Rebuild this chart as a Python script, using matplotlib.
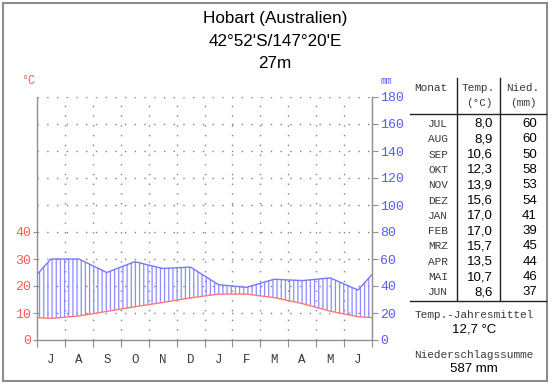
import numpy as np
import matplotlib
matplotlib.use("Agg")
import matplotlib.pyplot as plt
from matplotlib.lines import Line2D
from matplotlib.patches import Rectangle

# climate data, Hobart (Jul..Jun, southern hemisphere)
month_letters = ["J", "A", "S", "O", "N", "D", "J", "F", "M", "A", "M", "J"]
month_names = ["JUL", "AUG", "SEP", "OKT", "NOV", "DEZ", "JAN", "FEB", "MRZ", "APR", "MAI", "JUN"]
temp = [8.0, 8.9, 10.6, 12.3, 13.9, 15.6, 17.0, 17.0, 15.7, 13.5, 10.7, 8.6]
prec = [60, 60, 50, 58, 53, 54, 41, 39, 45, 44, 46, 37]
temp_ticks = [0, 10, 20, 30, 40]
prec_ticks = [0, 20, 40, 60, 80, 100, 120, 140, 160, 180]
title_lines = ["Hobart (Australien)", "42°52'S/147°20'E", "27m"]
mean_temp = "12,7 °C"
total_prec = "587 mm"

W, H = 550, 384
RED = "#ff5a5a"
BLUE = "#5a5aff"
GRID = "#808080"
TXT = "#3a3a3a"
MONO = "Liberation Mono"
SANS = "Liberation Sans"

plt.rcParams["hatch.linewidth"] = 0.9
plt.rcParams["hatch.color"] = "#8c8cff"


def fx(x):
    return x / W


def fy(y):
    return 1 - y / H


fig = plt.figure(figsize=(W / 100, H / 100), dpi=100)
ax = fig.add_axes([fx(37), fy(340), fx(372) - fx(37), fy(97) - fy(340)])

# curves at month midpoints, closed at both edges with the Jun/Jul mean
x = np.concatenate([[0], np.arange(12) + 0.5, [12]])
t_mm = [2 * v for v in temp]
t_edge = (t_mm[0] + t_mm[-1]) / 2
p_edge = (prec[0] + prec[-1]) / 2
t_line = np.concatenate([[t_edge], t_mm, [t_edge]])
p_line = np.concatenate([[p_edge], prec, [p_edge]])

ax.fill_between(x, t_line, p_line, where=p_line >= t_line, facecolor="none",
                edgecolor="#8c8cff", hatch="||||", linewidth=0)
ax.plot(x, p_line, color="#7878ff", lw=1)
ax.plot(x, t_line, color="#ff7878", lw=1)

ax.set_xlim(0, 12)
ax.set_ylim(0, 180)

# dotted grid
for m in range(1, 12):
    ax.axvline(m, color=GRID, lw=1, ls=(0, (1, 6)), zorder=0)
for v in prec_ticks[1:]:
    ax.axhline(v, color=GRID, lw=1, ls=(0, (1, 6)), zorder=0)

ax.spines["top"].set_visible(False)
for s in ["left", "right", "bottom"]:
    ax.spines[s].set_color("#909090")
    ax.spines[s].set_linewidth(1)

ax.set_xticks(range(13))
ax.set_xticklabels([])
ax.set_xticks(np.arange(12) + 0.5, minor=True)
ax.set_xticklabels(month_letters, minor=True, fontfamily=MONO, fontsize=9, color=TXT)
ax.tick_params(axis="x", which="major", length=5, color="#909090")
ax.tick_params(axis="x", which="minor", length=0, pad=10)

ax.set_yticks([2 * v for v in temp_ticks])
ax.set_yticklabels([str(v) for v in temp_ticks], fontfamily=MONO, fontsize=9.5, color=RED)
ax.tick_params(axis="y", length=3, color="#909090", pad=1)

ax2 = ax.twinx()
ax2.set_ylim(0, 180)
ax2.set_yticks(prec_ticks)
ax2.set_yticklabels([str(v) for v in prec_ticks], fontfamily=MONO, fontsize=9.5, color=BLUE)
ax2.tick_params(axis="y", length=4, color="#909090", pad=2)
for s in ["top", "left", "bottom"]:
    ax2.spines[s].set_visible(False)
ax2.spines["right"].set_color("#909090")

fig.text(fx(28), fy(81), "°C", color=RED, fontfamily=MONO, fontsize=8.5, ha="center", va="center")
fig.text(fx(386), fy(81), "mm", color=BLUE, fontfamily=MONO, fontsize=7, ha="center", va="center")

# title
for i, line in enumerate(title_lines):
    fig.text(0.5, fy(18 + 23 * i), line, fontfamily=SANS, fontsize=12.3, ha="center", va="center")


# table
def hline(x0, x1, y):
    fig.add_artist(Line2D([fx(x0), fx(x1)], [fy(y), fy(y)], color="#202020", lw=1))


def vline(x, y0, y1):
    fig.add_artist(Line2D([fx(x), fx(x)], [fy(y0), fy(y1)], color="#202020", lw=1))


vline(457, 78, 300)
vline(500, 78, 300)
hline(410, 546, 114)
hline(410, 546, 301)

fig.text(fx(431), fy(88), "Monat", fontfamily=MONO, fontsize=8, ha="center", va="center", color=TXT)
fig.text(fx(478), fy(88), "Temp.", fontfamily=MONO, fontsize=8, ha="center", va="center", color=TXT)
fig.text(fx(479), fy(103), "(°C)", fontfamily=MONO, fontsize=8, ha="center", va="center", color=TXT)
fig.text(fx(523), fy(88), "Nied.", fontfamily=MONO, fontsize=8, ha="center", va="center", color=TXT)
fig.text(fx(523), fy(103), "(mm)", fontfamily=MONO, fontsize=8, ha="center", va="center", color=TXT)

for i, (name, t, p) in enumerate(zip(month_names, temp, prec)):
    y = 124 + 15.3 * i
    fig.text(fx(448), fy(y), name, fontfamily=MONO, fontsize=8, ha="right", va="center", color=TXT)
    fig.text(fx(493), fy(y), f"{t:.1f}".replace(".", ","), fontfamily=SANS, fontsize=9.5,
             ha="right", va="center")
    fig.text(fx(537), fy(y), str(p), fontfamily=SANS, fontsize=9.5, ha="right", va="center")

fig.text(fx(474), fy(315), "Temp.-Jahresmittel", fontfamily=MONO, fontsize=8, ha="center", va="center", color=TXT)
fig.text(fx(474), fy(330), mean_temp, fontfamily=SANS, fontsize=9.5, ha="center", va="center")
fig.text(fx(474), fy(355), "Niederschlagssumme", fontfamily=MONO, fontsize=8, ha="center", va="center", color=TXT)
fig.text(fx(474), fy(369), total_prec, fontfamily=SANS, fontsize=9.5, ha="center", va="center")

# outer frame
fig.add_artist(Rectangle((fx(2.5), fy(380.5)), fx(544), fy(3) - fy(380.5), transform=fig.transFigure,
                         fill=False, edgecolor="#8c8c8c", lw=1.5))

fig.savefig("out.png", dpi=100)
